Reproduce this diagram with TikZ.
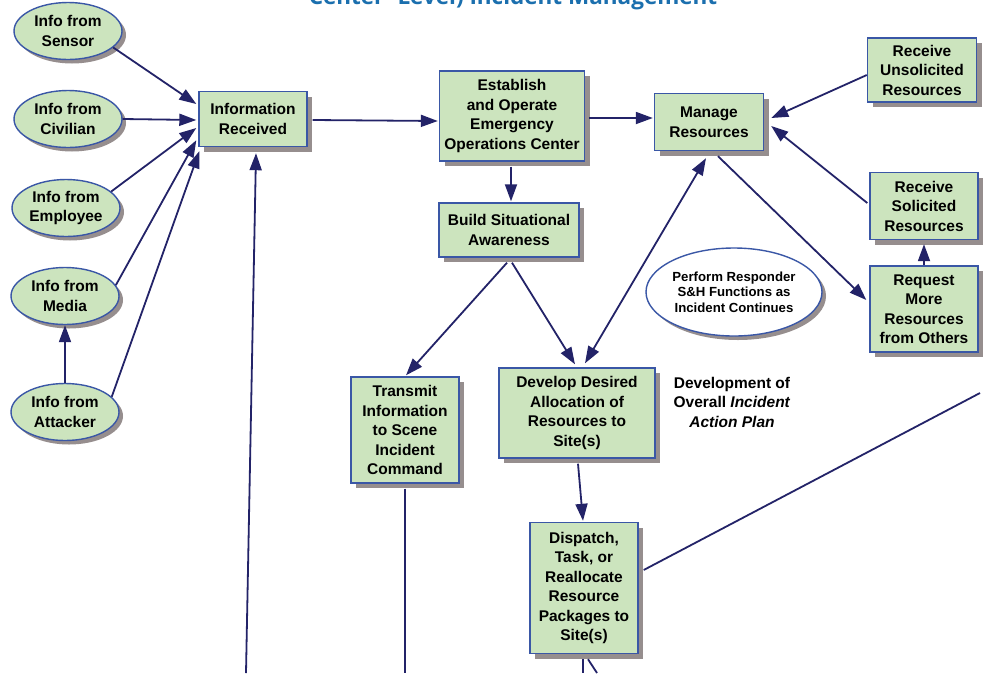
\documentclass[tikz,border=0pt]{standalone}
\usepackage{fontspec}
\setmainfont{Liberation Sans}
\newfontfamily\titlefont{Open Sans}
\usetikzlibrary{arrows.meta,shadows,shapes.geometric,calc}

\definecolor{boxfill}{HTML}{CCE4BE}
\definecolor{boxline}{HTML}{3A57A6}
\definecolor{linkcol}{HTML}{232368}
\definecolor{shadecol}{HTML}{968E8E}
\definecolor{titleblue}{HTML}{1B6FAE}

\tikzset{
  boxtext/.style={font=\bfseries\fontsize{15.5}{19.5}\selectfont, align=center, text=black},
  procbox/.style={boxtext, rectangle, draw=boxline, line width=1.4pt, fill=boxfill, inner sep=0pt,
    drop shadow={shadow xshift=5pt, shadow yshift=-5pt, fill=shadecol, opacity=1}},
  srcnode/.style={boxtext, ellipse, draw=boxline, line width=1.4pt, fill=boxfill, inner sep=0pt,
    minimum width=108pt, minimum height=57pt,
    drop shadow={shadow xshift=4pt, shadow yshift=-4pt, fill=shadecol, opacity=1}},
  noteoval/.style={ellipse, draw=boxline, line width=1.4pt, fill=white, inner sep=0pt,
    font=\bfseries\fontsize{13.2}{15.5}\selectfont, align=center,
    minimum width=176pt, minimum height=88pt,
    drop shadow={shadow xshift=4pt, shadow yshift=-4pt, fill=shadecol, opacity=1}},
  tip/.style={Triangle[length=17pt,width=12pt]},
  link/.style={draw=linkcol, line width=1.8pt, -{Triangle[length=17pt,width=12pt]}},
  bothlink/.style={draw=linkcol, line width=1.8pt, {Triangle[length=17pt,width=12pt]}-{Triangle[length=17pt,width=12pt]}},
  plainlink/.style={draw=linkcol, line width=1.8pt},
}

\begin{document}
\begin{tikzpicture}[x=1pt,y=-1pt]
\useasboundingbox (0,0) rectangle (986,673);
\clip (0,0) rectangle (986,673);
\fill[white] (0,0) rectangle (986,673);

% heading, partly above the page edge
\node[font=\titlefont\bfseries\fontsize{22.5}{22.5}\selectfont, text=titleblue, anchor=base, inner sep=0pt]
  (title) at (513,4) {Center- Level) Incident Management};

% information sources
\node[srcnode] (sensor)   at (68,31)  {Info from\\Sensor};
\node[srcnode] (civilian) at (68,119) {Info from\\Civilian};
\node[srcnode] (employee) at (66,208) {Info from\\Employee};
\node[srcnode] (media)    at (65,296) {Info from\\Media};
\node[srcnode] (attacker) at (65,412) {Info from\\Attacker};

% process steps
\node[procbox, minimum width=108pt, minimum height=55pt] (inforec) at (253,119) {Information\\Received};
\node[procbox, minimum width=145pt, minimum height=90pt] (establish) at (512,116)
  {Establish\\and Operate\\Emergency\\Operations Center};
\node[procbox, minimum width=109pt, minimum height=57pt] (manage) at (709,122) {Manage\\Resources};
\node[procbox, minimum width=109pt, minimum height=64pt] (unsolicited) at (922,70)
  {Receive\\Unsolicited\\Resources};
\node[procbox, minimum width=108pt, minimum height=67pt] (solicited) at (924,206)
  {Receive\\Solicited\\Resources};
\node[procbox, minimum width=108pt, minimum height=86pt] (request) at (924,309)
  {Request\\More\\Resources\\from Others};
\node[procbox, minimum width=140pt, minimum height=54pt] (build) at (509,230)
  {Build Situational\\Awareness};
\node[procbox, minimum width=108pt, minimum height=106pt] (transmit) at (405,430)
  {Transmit\\Information\\to Scene\\Incident\\Command};
\node[procbox, minimum width=156pt, minimum height=90pt] (develop) at (577,413)
  {Develop Desired\\Allocation of\\Resources to\\Site(s)};
\node[procbox, minimum width=108pt, minimum height=131pt] (dispatch) at (584,588)
  {Dispatch,\\Task, or\\Reallocate\\Resource\\Packages to\\Site(s)};

\node[noteoval] (perform) at (734,292) {Perform Responder\\S\&H Functions as\\Incident Continues};
\node[boxtext, inner sep=0pt] (plan) at (732,402)
  {Development of\\Overall \textit{Incident}\\\textit{Action Plan}};

% loose ends running off the page
\coordinate (feedA) at (246,673);
\coordinate (feedB) at (405,673);
\coordinate (feedC) at (980,393);
\coordinate (feedD) at (583,673);
\coordinate (feedE) at (597,673);

% sources into the information step
\draw[link] (sensor.-20) -- ($(inforec.west)+(-2,-15)$);
\draw[link] (civilian.east) -- ($(inforec.west)+(-2,1)$);
\draw[link] (employee.20) -- ($(inforec.west)+(-2,9)$);
\draw[link] (media.12) -- ($(inforec.south west)+(-2,-7)$);
\draw[link] (attacker.18) -- ($(inforec.south west)+(1,4)$);
\draw[link] (attacker.north) -- (media.south);
\draw[link] (feedA) -- ($(inforec.south)+(3,6)$);

% main flow
\draw[link] ($(inforec.east)+(5,1)$) -- ($(establish.west)+(-1,5)$);
\draw[link] ($(establish.east)+(4,2)$) -- ($(manage.west)+(-1,-4)$);
\draw[link] ($(establish.south)+(-1,5)$) -- ($(build.north)+(2,-1)$);
\draw[link] ($(build.south)+(-2,5)$) -- ($(transmit.north)+(1,-1)$);
\draw[link] ($(build.south)+(3,5)$) -- ($(develop.north)+(-2,-3)$);
\draw[bothlink] ($(develop.north)+(8,-4)$) -- ($(manage.south)+(-3,7)$);
\draw[link] ($(develop.south)+(1,5)$) -- ($(dispatch.north)+(-1,-1)$);
\draw[plainlink] ($(transmit.south)+(0,5)$) -- (feedB);
\draw[plainlink] ($(dispatch.east)+(5,-18)$) -- (feedC);
\draw[plainlink] ($(dispatch.south)+(-1,5)$) -- (feedD);
\draw[plainlink] ($(dispatch.south)+(4,5)$) -- (feedE);

% resource handling
\draw[link] ($(unsolicited.west)+(0,5)$) -- ($(manage.east)+(7,-4)$);
\draw[link] ($(solicited.west)+(-2,-3)$) -- ($(manage.east)+(7,4)$);
\draw[link] ($(manage.south)+(9,5)$) -- ($(request.west)+(-3,-9)$);
\draw[link] (request.north) -- ($(solicited.south)+(0,4)$);
\end{tikzpicture}
\end{document}
